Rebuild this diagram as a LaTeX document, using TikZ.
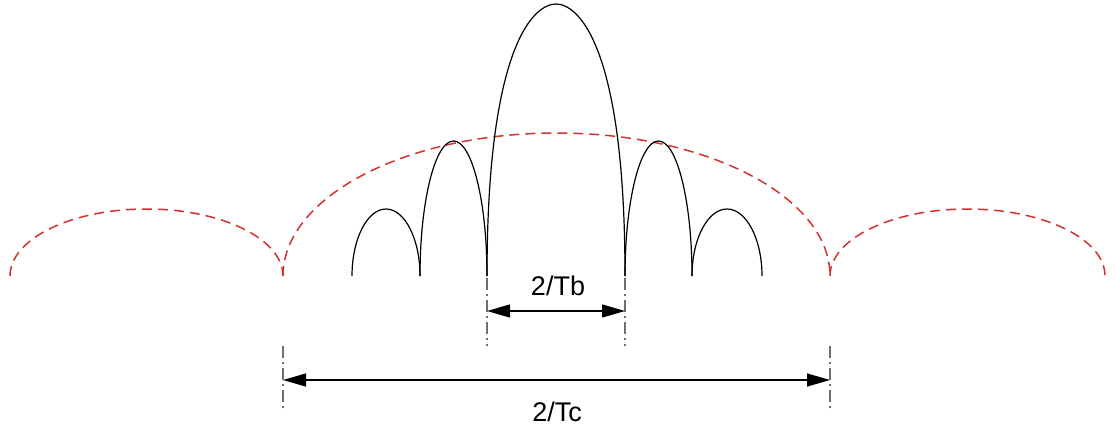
\documentclass[tikz,border=0pt]{standalone}
\usepackage{fontspec}
\setmainfont{Liberation Sans}
\usetikzlibrary{arrows.meta}
\definecolor{envred}{RGB}{214,48,48}
\definecolor{extgray}{RGB}{110,110,110}
\tikzset{
  lobe/.style={line width=1.2pt,black},
  envlobe/.style={line width=1.5pt,envred,dash pattern=on 10pt off 6pt},
  extln/.style={line width=1.3pt,extgray,dash pattern=on 12pt off 4pt on 2pt off 4pt},
  dimln/.style={{Triangle[length=23pt,width=13pt]}-{Triangle[length=23pt,width=13pt]},line width=1.3pt},
  dimlbl/.style={font=\fontsize{27}{32}\selectfont,inner sep=0pt},
}
\begin{document}
\begin{tikzpicture}[x=1pt,y=-1pt]
  \useasboundingbox (0,0) rectangle (1115,432);
  % red envelope
  \draw[envlobe] (10,276) arc[start angle=180,end angle=360,x radius=136.5,y radius=67];
  \draw[envlobe] (283,276) arc[start angle=180,end angle=360,x radius=273.5,y radius=143];
  \draw[envlobe] (830,276) arc[start angle=180,end angle=360,x radius=137.5,y radius=67];
  % side lobes
  \foreach \a/\w/\h in {352/68/67, 420/67/135, 625/67/135, 692/70/67}{
    \draw[lobe] (\a,276) arc[start angle=180,end angle=360,x radius=\w/2,y radius=\h];
  }
  % main lobe
  \draw[lobe] (487,276) .. controls (487,45) and (534,4) .. (556,4)
    .. controls (578,4) and (625,45) .. (625,276);
  % 2/Tb
  \coordinate (tbl) at (487,311);
  \coordinate (tbr) at (625,311);
  \draw[extln] (487,278) -- (487,346);
  \draw[extln] (625,278) -- (625,346);
  \draw[dimln] (tbl) -- (tbr);
  \node[dimlbl] (tb) at (558,286) {2/Tb};
  % 2/Tc
  \coordinate (tcl) at (283,380);
  \coordinate (tcr) at (830,380);
  \draw[extln] (283,346) -- (283,412);
  \draw[extln] (830,346) -- (830,412);
  \draw[dimln] (tcl) -- (tcr);
  \node[dimlbl] (tc) at (557,412) {2/Tc};
\end{tikzpicture}
\end{document}
